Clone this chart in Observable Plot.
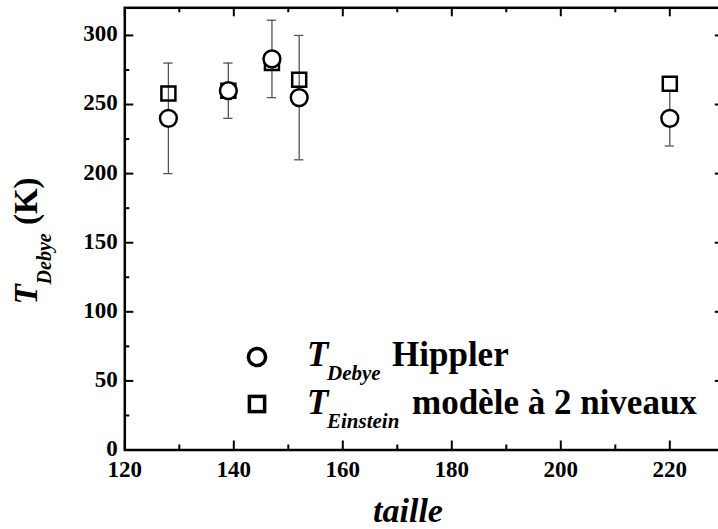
<!DOCTYPE html>
<html>
<head>
<meta charset="utf-8">
<script src="https://cdn.jsdelivr.net/npm/d3@7"></script>
<script src="https://cdn.jsdelivr.net/npm/@observablehq/plot@0.6"></script>
<style>
  html, body { margin: 0; padding: 0; overflow: hidden; background: white; }
</style>
</head>
<body>
<div id="chart"></div>
<script>
// ---- data ----
const sizes = [128, 139, 147, 152, 220];
const debye = [240, 260, 283, 255, 240];
const debyeErrLow = [200, 240, 255, 210, 220];
const debyeErrHigh = [280, 280, 311, 300, 260];
const einstein = [258, 260, 280, 268, 265];

const xMajorTicks = [120, 140, 160, 180, 200, 220];
const xMinorTicks = [130, 150, 170, 190, 210];
const yMajorTicks = [0, 50, 100, 150, 200, 250, 300];
const yMinorTicks = [25, 75, 125, 175, 225, 275];

const seriesNames = ["Hippler", "modèle à 2 niveaux"];
const seriesSubs = ["Debye", "Einstein"];

// ---- layout ----
const W = 726, H = 529;
const mL = 124.3, mR = 2.2, mT = 7.3, mB = 79.5;
const plotW = W - mL - mR, plotH = H - mT - mB;
const FONT = "'Liberation Serif', 'Times New Roman', serif";
const majorLen = 9, minorLen = 5;
const capHalf = 0.85;

const pts = sizes.map((s, i) => ({x: s, d: debye[i], lo: debyeErrLow[i], hi: debyeErrHigh[i], e: einstein[i]}));

const tickStyle = {stroke: "black", strokeWidth: 2};

const chart = Plot.plot({
  width: W, height: H,
  marginLeft: mL, marginRight: mR, marginTop: mT, marginBottom: mB,
  style: {fontFamily: FONT, maxWidth: "none", background: "white", overflow: "visible"},
  x: {domain: [120, 230], axis: null},
  y: {domain: [0, 320], axis: null},
  marks: [
    Plot.ruleX(xMajorTicks, {x: d => d, insetTop: plotH - majorLen, ...tickStyle}),
    Plot.ruleX(xMinorTicks, {x: d => d, insetTop: plotH - minorLen, ...tickStyle}),
    Plot.ruleX(xMajorTicks, {x: d => d, insetBottom: plotH - majorLen, ...tickStyle}),
    Plot.ruleX(xMinorTicks, {x: d => d, insetBottom: plotH - minorLen, ...tickStyle}),
    Plot.ruleY(yMajorTicks, {y: d => d, insetRight: plotW - majorLen, ...tickStyle}),
    Plot.ruleY(yMinorTicks, {y: d => d, insetRight: plotW - minorLen, ...tickStyle}),
    Plot.ruleY(yMajorTicks, {y: d => d, insetLeft: plotW - majorLen, ...tickStyle}),
    Plot.ruleY(yMinorTicks, {y: d => d, insetLeft: plotW - minorLen, ...tickStyle}),
    Plot.text(xMajorTicks, {x: d => d, frameAnchor: "bottom", dy: 20, text: d => String(d),
      fontSize: 23, fontWeight: "bold", fontFamily: FONT, lineAnchor: "middle", fill: "black"}),
    Plot.text(yMajorTicks, {y: d => d, frameAnchor: "left", dx: -7, dy: -1.5, textAnchor: "end", text: d => String(d),
      fontSize: 23, fontWeight: "bold", fontFamily: FONT, lineAnchor: "middle", fill: "black"}),
    Plot.frame({stroke: "black", strokeWidth: 2.5}),
    Plot.ruleX(pts, {x: "x", y1: "lo", y2: "hi", stroke: "#555", strokeWidth: 1.3}),
    Plot.ruleY(pts, {y: "lo", x1: d => d.x - capHalf, x2: d => d.x + capHalf, stroke: "#555", strokeWidth: 1.3}),
    Plot.ruleY(pts, {y: "hi", x1: d => d.x - capHalf, x2: d => d.x + capHalf, stroke: "#555", strokeWidth: 1.3}),
    Plot.dot(pts, {x: "x", y: "e", symbol: "square", r: 7.9, stroke: "black", strokeWidth: 2.5, fill: "none"}),
    Plot.dot(pts, {x: "x", y: "d", symbol: "circle", r: 8.4, stroke: "black", strokeWidth: 2.5, fill: "white"})
  ]
});

document.getElementById("chart").appendChild(chart);

const svg = d3.select(chart);

svg.append("text")
  .attr("x", 408).attr("y", 522)
  .attr("text-anchor", "middle")
  .attr("font-family", FONT).attr("font-size", 34)
  .attr("font-weight", "bold").attr("font-style", "italic")
  .attr("fill", "black")
  .text("taille");

const yt = svg.append("text")
  .attr("transform", "translate(37,241) rotate(-90)")
  .attr("text-anchor", "middle")
  .attr("font-family", FONT).attr("font-weight", "bold").attr("fill", "black");
yt.append("tspan").attr("font-size", 33).attr("font-style", "italic").text("T");
yt.append("tspan").attr("font-size", 20).attr("font-style", "italic").attr("dy", 14).text(seriesSubs[0]);
yt.append("tspan").attr("font-size", 33).attr("dy", -14).text(" (K)");

const legendRows = [
  {sym: "circle", cy: 357, base: 366},
  {sym: "square", cy: 404, base: 414}
];
legendRows.forEach((row, i) => {
  if (row.sym === "circle") {
    svg.append("circle").attr("cx", 257).attr("cy", row.cy).attr("r", 8.6)
      .attr("fill", "white").attr("stroke", "black").attr("stroke-width", 3.5);
  } else {
    svg.append("rect").attr("x", 257 - 7.6).attr("y", row.cy - 7.6).attr("width", 15.2).attr("height", 15.2)
      .attr("fill", "white").attr("stroke", "black").attr("stroke-width", 3.5);
  }
  const g = svg.append("g").attr("font-family", FONT).attr("font-weight", "bold")
    .attr("fill", "black").attr("text-anchor", "start");
  g.append("text").attr("x", 307).attr("y", row.base).attr("font-size", 35).attr("font-style", "italic").text("T");
  g.append("text").attr("x", 327).attr("y", row.base + 14).attr("font-size", 21).attr("font-style", "italic").text(seriesSubs[i]);
  g.append("text").attr("x", i === 0 ? 392 : 412).attr("y", row.base).attr("font-size", 35).text(seriesNames[i]);
});
</script>
</body>
</html>
